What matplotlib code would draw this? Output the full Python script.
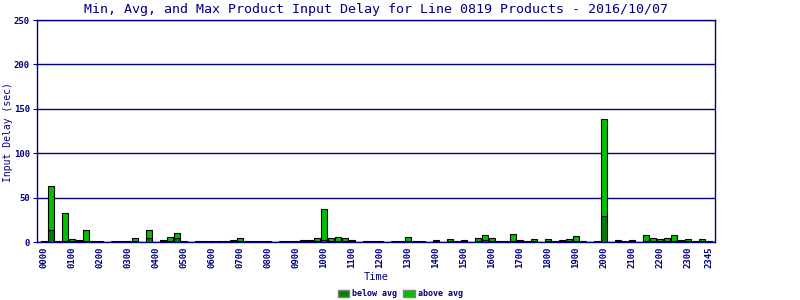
import matplotlib
matplotlib.use("Agg")
import matplotlib.pyplot as plt
from matplotlib.patches import Patch
import numpy as np

# 15-minute slots for the day (96 slots)
slot_labels = [f"{h:02d}{m:02d}" for h in range(24) for m in (0, 15, 30, 45)]

# max delay per slot (sec)
max_delay = [
    1, 63, 1, 33, 3.5, 2.5, 14, 1, 1, 0, 1, 1, 1, 5, 0, 14,
    0, 2.5, 5.5, 10, 1, 0, 1, 1, 1, 1, 1, 2.5, 4.5, 1, 1, 1,
    1, 0, 1, 1, 1, 2.5, 2.5, 4.5, 37, 4.5, 5.5, 4.5, 2.5, 0, 1, 1,
    1, 0, 1, 1, 5.5, 1, 1, 0, 2.5, 0, 3.5, 1, 2.5, 0, 4.5, 8,
    4.5, 1, 1, 9, 2.5, 1, 3.5, 0, 3.5, 1, 2.5, 3.5, 7, 1, 0, 1,
    138, 0, 2.5, 1, 2.5, 0, 8, 4.5, 3.5, 4.5, 8, 2.5, 3.5, 1, 3.5, 1,
]
# average delay per slot (the dark "below avg" part)
avg_delay = [
    0.5, 14, 0.5, 1, 1, 1, 1, 0.5, 0.5, 0, 0.5, 0.5, 0.5, 1, 0, 5,
    0, 1, 1, 5, 0.5, 0, 0.5, 0.5, 0.5, 0.5, 0.5, 1, 1, 0.5, 0.5, 0.5,
    0.5, 0, 0.5, 0.5, 0.5, 1, 1, 1, 2, 1, 1, 1, 1, 0, 0.5, 0.5,
    0.5, 0, 0.5, 0.5, 1, 0.5, 0.5, 0, 1, 0, 1, 0.5, 1, 0, 1, 2.5,
    1, 0.5, 0.5, 1, 1, 0.5, 1, 0, 1, 0.5, 1, 1, 1.5, 0.5, 0, 0.5,
    29, 0, 1, 0.5, 1, 0, 1, 1, 1, 1, 1, 1, 1, 0.5, 1, 0.5,
]

navy = "#000080"
dark_green = "#008000"
light_green = "#00c000"
mono = "DejaVu Sans Mono"

x = np.arange(len(slot_labels))
below = np.array(avg_delay)
above = np.array(max_delay) - below

fig = plt.figure(figsize=(8, 3), dpi=100)
ax = fig.add_axes([37 / 800, 1 - 242 / 300, 678 / 800, 222 / 300])

# only draw slots that have data
has = np.array(max_delay) > 0
ax.bar(x[has], below[has], width=0.72, color=dark_green, edgecolor="black", linewidth=0.8, zorder=3)
ax.bar(x[has], above[has], bottom=below[has], width=0.72, color=light_green,
       edgecolor="black", linewidth=0.8, zorder=3)

ax.set_xlim(-1, 95.86)
ax.set_ylim(0, 250)
ax.set_yticks([0, 50, 100, 150, 200, 250])
ax.yaxis.grid(True, color=navy, linewidth=1.0, zorder=1)

tick_pos = list(range(0, 96, 4)) + [95]
ax.set_xticks(tick_pos)
ax.set_xticklabels([slot_labels[i] for i in tick_pos], rotation=90,
                   fontsize=6.5, family=mono, color=navy, fontweight="bold")
ax.tick_params(axis="x", length=0, pad=3)
ax.tick_params(axis="y", length=3, color=navy, labelsize=6.5, labelcolor=navy, pad=2)
for lab in ax.get_yticklabels():
    lab.set_family(mono)
    lab.set_fontweight("bold")

for s in ax.spines.values():
    s.set_color(navy)
    s.set_linewidth(1.0)

# axis titles placed on the figure so nothing gets clipped
fig.text(8 / 800, 1 - 132 / 300, "Input Delay (sec)", family=mono, fontsize=7,
         color=navy, rotation=90, ha="center", va="center")
fig.text(376 / 800, 1 - 277 / 300, "Time", family=mono, fontsize=7.5, color=navy,
         ha="center", va="center")
fig.text(376 / 800, 1 - 9 / 300,
         "Min, Avg, and Max Product Input Delay for Line 0819 Products - 2016/10/07",
         family=mono, fontsize=9.6, color=navy, ha="center", va="center")

handles = [Patch(facecolor=dark_green, edgecolor="gray", label="below avg"),
           Patch(facecolor=light_green, edgecolor="gray", label="above avg")]
leg = fig.legend(handles=handles, loc="center", bbox_to_anchor=(400 / 800, 1 - 294 / 300),
                 ncol=2, frameon=False, handlelength=1.4, handleheight=0.9,
                 handletextpad=0.3, columnspacing=0.8,
                 prop={"family": mono, "size": 6, "weight": "bold"})
for t in leg.get_texts():
    t.set_color(navy)

fig.savefig("out.png", dpi=100)
